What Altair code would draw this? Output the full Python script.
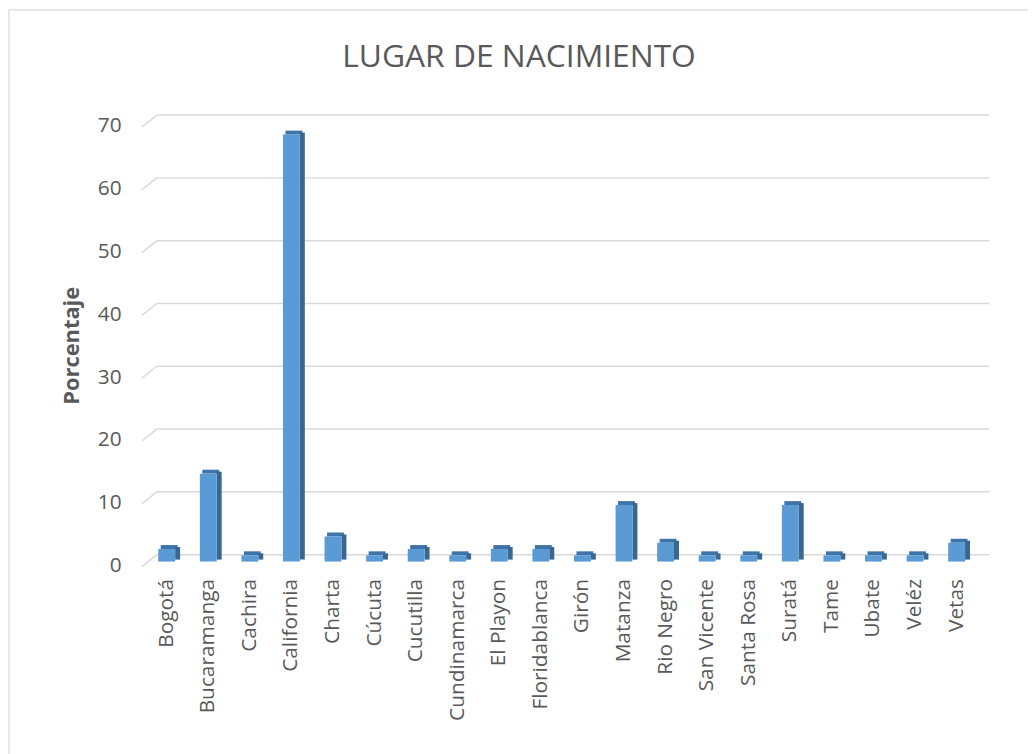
import altair as alt
import pandas as pd

# ---- data ----
categories = ["Bogotá", "Bucaramanga", "Cachira", "California", "Charta", "Cúcuta",
              "Cucutilla", "Cundinamarca", "El Playon", "Floridablanca", "Girón",
              "Matanza", "Rio Negro", "San Vicente", "Santa Rosa", "Suratá", "Tame",
              "Ubate", "Veléz", "Vetas"]
porcentaje = [2, 14, 1, 68, 4, 1, 2, 1, 2, 2, 1, 9, 3, 1, 1, 9, 1, 1, 1, 3]
y_ticks = [0, 10, 20, 30, 40, 50, 60, 70]
chart_title = ["LUGAR DE NACIMIENTO"]

df = pd.DataFrame({"cat": categories, "v": porcentaje})
gdf = pd.DataFrame({"t": y_ticks})
tdf = pd.DataFrame({"title": chart_title})
one = pd.DataFrame({"k": [0]})

FONT = "Open Sans"
TXT = "#595959"
GRID = "#D9D9D9"

yscale = alt.Scale(domain=[0, 70], nice=False, zero=True)
xscale = alt.Scale(paddingInner=0, paddingOuter=0)

yaxis = alt.Axis(title="Porcentaje", values=y_ticks, grid=False, domain=False, ticks=False,
                 labelPadding=25, labelOffset=4, labelFont=FONT, labelFontSize=21,
                 labelColor=TXT, titleFont=FONT, titleFontSize=22, titleFontWeight="bold",
                 titleColor=TXT, titleX=-75, titleY=225, titleAngle=270,
                 titleAlign="center", titleBaseline="middle")
xaxis = alt.Axis(title=None, labelAngle=270, labelAlign="right", labelBaseline="middle",
                 labelPadding=17, domain=False, ticks=False, labelFont=FONT,
                 labelFontSize=21, labelColor=TXT, labelLimit=0)

border = alt.Chart(one).mark_rect(filled=False, fill="transparent", stroke=GRID,
                                  strokeWidth=1.2).encode(
    x=alt.value(-138), x2=alt.value(898), y=alt.value(-113), y2=alt.value(640))

title = alt.Chart(tdf).mark_text(font=FONT, fontSize=32, color=TXT, align="center",
                                 baseline="alphabetic").encode(
    text="title:N", x=alt.value(376), y=alt.value(-55))

diag = alt.Chart(gdf).mark_rule(color=GRID, strokeWidth=1.5, yOffset=5, y2Offset=-7).encode(
    x=alt.value(-4), x2=alt.value(11),
    y=alt.Y("t:Q", scale=yscale, axis=yaxis), y2="t:Q")

grid = alt.Chart(gdf).mark_rule(color=GRID, strokeWidth=1.5, yOffset=-7).encode(
    x=alt.value(11), x2=alt.value(850),
    y=alt.Y("t:Q", scale=yscale, axis=yaxis))

X = alt.X("cat:N", sort=categories, scale=xscale, axis=xaxis)

top = alt.Chart(df).mark_bar(width=17, xOffset=2.5, yOffset=-4, y2Offset=0,
                             color="#3F74A8").encode(
    x=X, y=alt.Y("v:Q", scale=yscale, axis=yaxis), y2="v:Q")

side = alt.Chart(df).mark_bar(width=5, xOffset=11, yOffset=-2, y2Offset=-2,
                              color="#3A6792").encode(
    x=X, y=alt.Y("v:Q", scale=yscale, axis=yaxis))

front = alt.Chart(df).mark_bar(width=17, color="#5B9BD5").encode(
    x=X, y=alt.Y("v:Q", scale=yscale, axis=yaxis))

chart = alt.layer(border, title, diag, grid, top, side, front).properties(
    width=838, height=443,
    autosize=alt.AutoSizeParams(type="none"),
    padding={"left": 139, "top": 112, "right": 51, "bottom": 191},
).configure(background="white").configure_view(stroke=None)

chart.save("out.html", embed_options={"renderer": "svg", "actions": False})
